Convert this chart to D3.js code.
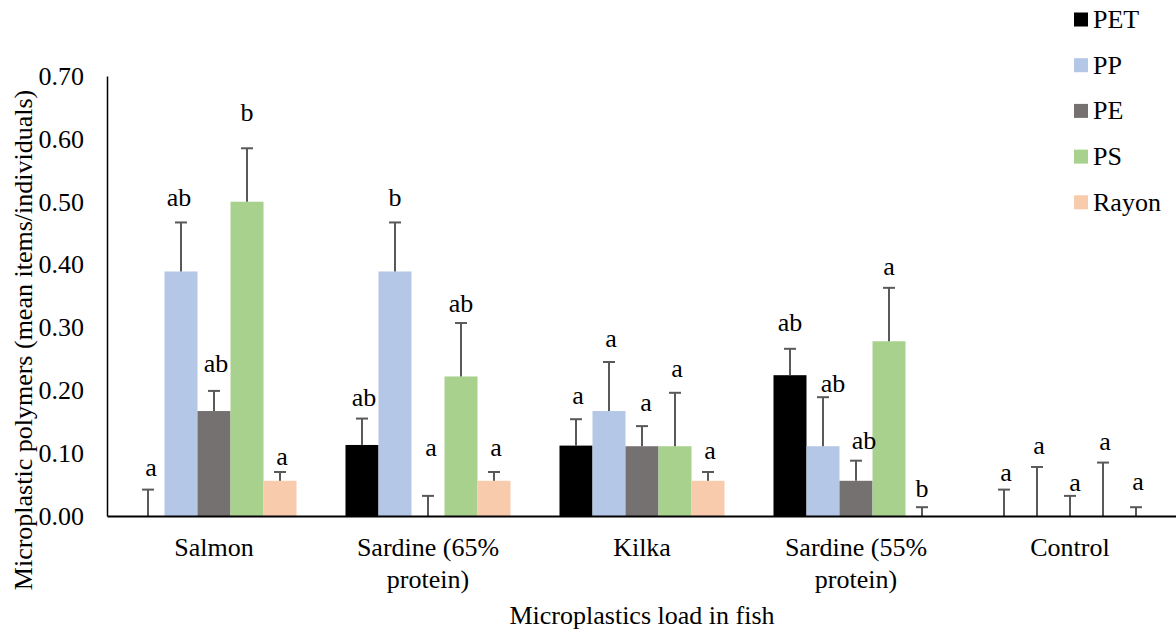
<!DOCTYPE html>
<html>
<head>
<meta charset="utf-8">
<script src="https://cdn.jsdelivr.net/npm/d3@7"></script>
<style>
  html, body { margin: 0; padding: 0; background: #fff; }
  svg { display: block; }
  svg text { font-family: "Liberation Serif", "Times New Roman", Times, serif !important; }
</style>
</head>
<body>
<svg id="chart" width="1176" height="635"></svg>
<script>
// Fish feed categories (second line of each label after "|")
const categories = ["Salmon", "Sardine (65%|protein)", "Kilka", "Sardine (55%|protein)", "Control"];
const polymers = ["PET", "PP", "PE", "PS", "Rayon"];

// Mean items per individual, one array per polymer, in category order
const PET   = [0,     0.113, 0.112, 0.224, 0];
const PP    = [0.389, 0.389, 0.167, 0.111, 0];
const PE    = [0.167, 0,     0.111, 0.056, 0];
const PS    = [0.5,   0.222, 0.111, 0.278, 0];
const Rayon = [0.056, 0.056, 0.056, 0,     0];

// Error bar size (upper only) for each polymer
const errors = [0.042, 0.078, 0.032, 0.085, 0.014];

// Significance letters, one array per polymer, in category order
const lettersPET   = ["a",  "ab", "a", "ab", "a"];
const lettersPP    = ["ab", "b",  "a", "ab", "a"];
const lettersPE    = ["ab", "a",  "a", "ab", "a"];
const lettersPS    = ["b",  "ab", "a", "a",  "a"];
const lettersRayon = ["a",  "a",  "a", "b",  "a"];

const yTicks = [0, 0.1, 0.2, 0.3, 0.4, 0.5, 0.6, 0.7];

const values = [PET, PP, PE, PS, Rayon];
const letters = [lettersPET, lettersPP, lettersPE, lettersPS, lettersRayon];
const colors = ["#000000", "#b4c7e7", "#767171", "#a9d18e", "#f8cbad"];

// Letter placement nudges in pixels [dx, gap above the error cap], per category then polymer
const letterNudge = [
  [[3, 14], [-2, 16], [2, 19], [0, 27], [2, 7]],
  [[2, 13], [0, 16], [3, 40], [0, 11], [2, 16]],
  [[2, 15], [2, 15], [4, 15], [2, 16], [2, 13]],
  [[0, 18], [10, 5], [8, 12], [0, 13], [0, 10]],
  [[2, 9], [2, 13], [5, 5], [2, 13], [2, 17]]
];

const svg = d3.select("#chart");
const margin = { left: 107, right: -1, top: 76, bottom: 119 };
const W = 1176, H = 635;
const FONT = 26;

const x0 = d3.scaleBand().domain(categories).range([margin.left, W - margin.right]).padding(0);
const x1 = d3.scaleBand().domain(polymers).range([0, x0.bandwidth()]).paddingInner(0).paddingOuter(0.742);
const y = d3.scaleLinear().domain([0, 0.7]).range([H - margin.bottom, margin.top]);

// Flattened records for drawing
const records = [];
categories.forEach((c, ci) => {
  polymers.forEach((p, pi) => {
    records.push({ c, ci, p, pi, v: values[pi][ci], e: errors[pi], l: letters[pi][ci], n: letterNudge[ci][pi] });
  });
});

// Bars
svg.append("g").selectAll("rect").data(records).join("rect")
  .attr("x", d => x0(d.c) + x1(d.p))
  .attr("y", d => y(d.v))
  .attr("width", x1.bandwidth())
  .attr("height", d => y(0) - y(d.v))
  .attr("fill", d => colors[d.pi]);

// Error bars (upper)
const eg = svg.append("g").attr("stroke", "#595959").attr("stroke-width", 2);
records.forEach(d => {
  const cx = x0(d.c) + x1(d.p) + x1.bandwidth() / 2;
  eg.append("line").attr("x1", cx).attr("x2", cx).attr("y1", y(d.v)).attr("y2", y(d.v + d.e));
  eg.append("line").attr("x1", cx - 6).attr("x2", cx + 6).attr("y1", y(d.v + d.e)).attr("y2", y(d.v + d.e));
});

// Significance letters
svg.append("g").selectAll("text").data(records).join("text")
  .attr("x", d => x0(d.c) + x1(d.p) + x1.bandwidth() / 2 + d.n[0])
  .attr("y", d => y(d.v + d.e) - d.n[1])
  .attr("text-anchor", "middle")
  .attr("font-size", FONT)
  .attr("fill", "#000")
  .text(d => d.l);

// Y axis
const yAxis = svg.append("g")
  .attr("transform", `translate(${margin.left},0)`)
  .call(d3.axisLeft(y).tickValues(yTicks).tickFormat(d3.format(".2f")).tickSize(0).tickSizeOuter(0).tickPadding(23));
yAxis.attr("font-size", FONT);
yAxis.select(".domain").attr("stroke", "#000").attr("stroke-width", 1.5);
yAxis.selectAll("text").attr("fill", "#000");

// X axis
const xAxis = svg.append("g")
  .attr("transform", `translate(0,${y(0)})`)
  .call(d3.axisBottom(x0).tickSize(0).tickSizeOuter(0).tickFormat(""));
xAxis.attr("font-size", FONT);
xAxis.select(".domain").attr("stroke", "#000").attr("stroke-width", 2);
xAxis.selectAll(".tick").each(function (c) {
  const t = d3.select(this).append("text")
    .attr("text-anchor", "middle")
    .attr("fill", "#000");
  c.split("|").forEach((line, i) => {
    t.append("tspan").attr("x", 0).attr("y", 40 + i * 32).text(line);
  });
});

// Axis titles
svg.append("text")
  .attr("x", (margin.left + W - margin.right) / 2)
  .attr("y", 624)
  .attr("text-anchor", "middle")
  .attr("font-size", FONT)
  .text("Microplastics load in fish");

svg.append("text")
  .attr("transform", "translate(32,340) rotate(-90)")
  .attr("text-anchor", "middle")
  .attr("font-size", FONT)
  .text("Microplastic polymers (mean items/individuals)");

// Legend
const lg = svg.append("g");
polymers.forEach((p, i) => {
  const by = 28 + i * 45.7;
  lg.append("rect").attr("x", 1074).attr("y", by - 15.5).attr("width", 14).attr("height", 14).attr("fill", colors[i]);
  lg.append("text").attr("x", 1093).attr("y", by).attr("font-size", FONT).text(p);
});
</script>
</body>
</html>
